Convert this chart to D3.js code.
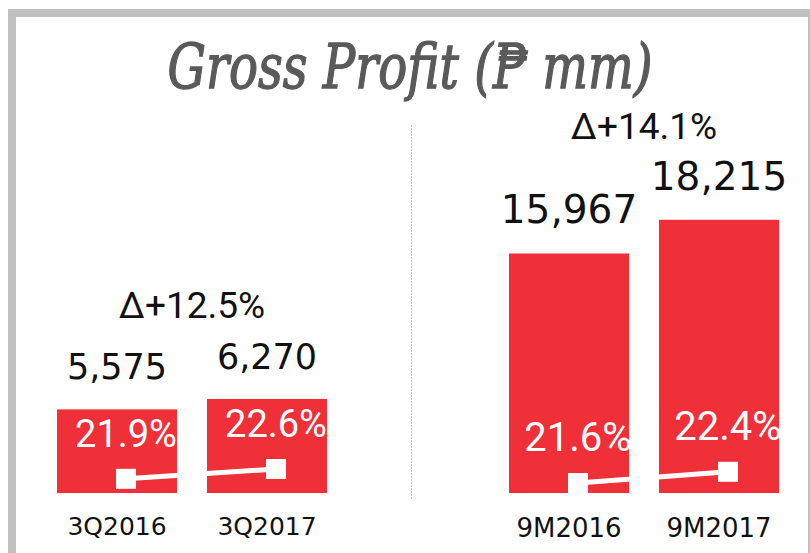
<!DOCTYPE html>
<meta charset="utf-8">
<script src="https://cdn.jsdelivr.net/npm/d3@7"></script>
<style>
body { margin: 0; background: #fff; }
.title { font-family: "DejaVu Serif Condensed", "DejaVu Serif", serif; font-style: italic; font-stretch: condensed; fill: #5a5a5a; stroke: #5a5a5a; stroke-width: 1.3px; }
.val { font-family: "DejaVu Sans", sans-serif; fill: #111; }
.cat { font-family: "DejaVu Sans", sans-serif; fill: #111; }
.pct { font-family: Roboto, sans-serif; fill: #fff; }
.delta { font-family: Roboto, sans-serif; fill: #111; }
</style>
<body>
<script>
// quarter panel
var qCats = ["3Q2016", "3Q2017"];
var qProfit = [5575, 6270];
var qMargin = [21.9, 22.6];
var qDelta = "Δ+12.5%";

// nine-month panel
var mCats = ["9M2016", "9M2017"];
var mProfit = [15967, 18215];
var mMargin = [21.6, 22.4];
var mDelta = "Δ+14.1%";

var width = 810, height = 553;
var red = "#ef3038";

var svg = d3.select("body").append("svg")
    .attr("width", width)
    .attr("height", height);

// frame
svg.append("rect")
    .attr("x", 12).attr("y", 13)
    .attr("width", 800).attr("height", 600)
    .attr("fill", "none")
    .attr("stroke", "#c0c0c0")
    .attr("stroke-width", 8);

svg.append("text")
    .attr("class", "title")
    .attr("x", 410).attr("y", 88)
    .attr("text-anchor", "middle")
    .attr("font-size", "61px")
    .attr("textLength", 485)
    .attr("lengthAdjust", "spacingAndGlyphs")
    .text("Gross Profit (₱ mm)");

// divider
svg.append("line")
    .attr("x1", 411.5).attr("x2", 411.5)
    .attr("y1", 125).attr("y2", 499)
    .attr("stroke", "#c8c8c8")
    .attr("stroke-width", 1)
    .attr("stroke-dasharray", "2,1");

// shared scales: both panels use same profit scale and margin scale
var y = d3.scaleLinear().domain([0, 20000]).range([493, 193]);
var yM = d3.scaleLinear().domain([20, 30]).range([505.4, 365.4]);

function panel(cats, profit, margin, delta, range, opt) {
  var x = d3.scaleBand().domain(cats).range(range)
      .paddingInner(0.2).paddingOuter(0.1);
  var rows = cats.map(function(c, i) { return {cat: c, v: profit[i], m: margin[i]}; });
  var g = svg.append("g");

  g.selectAll(".bar").data(rows).enter().append("rect")
      .attr("class", "bar")
      .attr("x", function(d) { return x(d.cat); })
      .attr("y", function(d) { return y(d.v); })
      .attr("width", x.bandwidth())
      .attr("height", function(d) { return y(0) - y(d.v); })
      .attr("fill", red);

  g.selectAll(".val").data(rows).enter().append("text")
      .attr("class", "val")
      .attr("x", function(d) { return x(d.cat) + x.bandwidth() / 2; })
      .attr("y", function(d) { return y(d.v) - 30; })
      .attr("text-anchor", "middle")
      .attr("font-size", opt.val + "px")
      .text(function(d) { return d3.format(",")(d.v); });

  g.selectAll(".cat").data(rows).enter().append("text")
      .attr("class", "cat")
      .attr("x", function(d) { return x(d.cat) + x.bandwidth() / 2; })
      .attr("y", opt.catY)
      .attr("text-anchor", "middle")
      .attr("font-size", opt.cat + "px")
      .text(function(d) { return d.cat; });

  // margin line
  var mx = function(d) { return x(d.cat) + x.bandwidth() / 2 + 9; };
  var line = d3.line().x(mx).y(function(d) { return yM(d.m); });
  g.append("path")
      .datum(rows)
      .attr("d", line)
      .attr("fill", "none")
      .attr("stroke", "#fff")
      .attr("stroke-width", 5);

  g.selectAll(".mk").data(rows).enter().append("rect")
      .attr("class", "mk")
      .attr("x", function(d) { return mx(d) - 10; })
      .attr("y", function(d) { return yM(d.m) - 10; })
      .attr("width", 20).attr("height", 20)
      .attr("fill", "#fff");

  g.selectAll(".pct").data(rows).enter().append("text")
      .attr("class", "pct")
      .attr("x", mx)
      .attr("y", function(d) { return yM(d.m) - 32; })
      .attr("text-anchor", "middle")
      .attr("font-size", opt.pct + "px")
      .text(function(d) { return d.m.toFixed(1) + "%"; });

  var top = d3.min(rows, function(d) { return y(d.v); });
  g.append("text")
      .attr("class", "delta")
      .attr("x", (range[0] + range[1]) / 2)
      .attr("y", top - 30 - 51)
      .attr("text-anchor", "middle")
      .attr("font-size", "37px")
      .text(delta);
}

panel(qCats, qProfit, qMargin, qDelta, [42, 342], {val: 35, cat: 25, pct: 38, catY: 535});
panel(mCats, mProfit, mMargin, mDelta, [494, 794], {val: 39, cat: 26, pct: 40, catY: 536.5});
</script>
</body>
